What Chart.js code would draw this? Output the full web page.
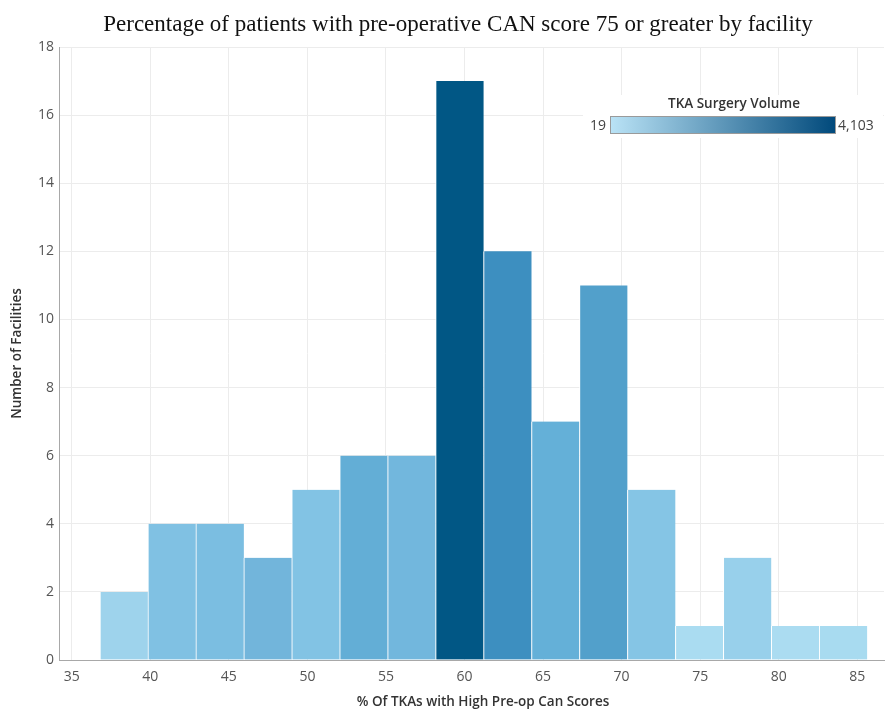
<!DOCTYPE html>
<html>
<head>
<meta charset="utf-8">
<script src="https://cdn.jsdelivr.net/npm/chart.js@4/dist/chart.umd.min.js"></script>
<style>
  html, body { margin: 0; padding: 0; background: #fff; }
  #wrap { width: 885px; height: 709px; position: relative; }
</style>
</head>
<body>
<div id="wrap"><canvas id="c" width="885" height="709"></canvas></div>
<script>
// ---- data ----
const chartTitle = "Percentage of patients with pre-operative CAN score 75 or greater by facility";
const xTitle = "% Of TKAs with High Pre-op Can Scores";
const yTitle = "Number of Facilities";
const binStart = 36.8;      // left edge of first bin (% value)
const binWidth = 3.052;     // bin size (% points)
const facilityCounts = [2, 4, 4, 3, 5, 6, 6, 17, 12, 7, 11, 5, 1, 3, 1, 1];
const binColors = ["#9ed3ec", "#80c1e3", "#7bbee1", "#72b5db", "#82c3e4", "#63aed6", "#72b7dd", "#015785",
                   "#3d8fc0", "#64b0d8", "#52a0cb", "#85c5e5", "#aadcf1", "#98d0eb", "#abdcf1", "#a8dbf0"];
const xTickValues = [35, 40, 45, 50, 55, 60, 65, 70, 75, 80, 85];
const yTickValues = [0, 2, 4, 6, 8, 10, 12, 14, 16, 18];
const legendTitle = "TKA Surgery Volume";
const legendMin = "19";
const legendMax = "4,103";
const legendColors = ["#bae3f6", "#00497b"];

const points = facilityCounts.map((v, i) => ({ x: binStart + binWidth * (i + 0.5), y: v }));

const decorPlugin = {
  id: 'decor',
  afterDraw(chart) {
    const ctx = chart.ctx;
    ctx.save();
    // title
    ctx.fillStyle = '#111';
    ctx.font = '23px "Liberation Serif", "Times New Roman", serif';
    ctx.textAlign = 'center';
    ctx.textBaseline = 'middle';
    ctx.fillText(chartTitle, 458, 25);
    // x axis title
    ctx.fillStyle = '#333';
    ctx.font = '600 13.5px "Open Sans"';
    ctx.fillText(xTitle, 483, 702);
    // gradient legend
    const x0 = 610, x1 = 836, y0 = 116, y1 = 134;
    const g = ctx.createLinearGradient(x0, 0, x1, 0);
    g.addColorStop(0, legendColors[0]);
    g.addColorStop(1, legendColors[1]);
    ctx.fillStyle = '#ffffff';
    ctx.fillRect(583, 95, 300, 43);
    ctx.fillStyle = g;
    ctx.fillRect(x0, y0, x1 - x0, y1 - y0);
    ctx.strokeStyle = '#9a9a9a';
    ctx.lineWidth = 1;
    ctx.strokeRect(x0 + 0.5, y0 + 0.5, x1 - x0 - 1, y1 - y0 - 1);
    ctx.fillStyle = '#333';
    ctx.font = '600 13.5px "Open Sans"';
    ctx.textAlign = 'center';
    ctx.fillText(legendTitle, 734, 104);
    ctx.font = '14px "Open Sans"';
    ctx.fillStyle = '#444';
    ctx.textAlign = 'right';
    ctx.fillText(legendMin, x0 - 4, 126);
    ctx.textAlign = 'left';
    ctx.fillText(legendMax, x1 + 2, 126);
    ctx.restore();
  }
};

new Chart(document.getElementById('c'), {
  type: 'bar',
  data: {
    datasets: [{
      data: points,
      backgroundColor: binColors,
      borderColor: '#ffffff',
      borderWidth: { left: 1, right: 0, top: 0, bottom: 0 },
      borderSkipped: false,
      barPercentage: 1,
      categoryPercentage: 1
    }]
  },
  options: {
    responsive: false,
    animation: false,
    events: [],
    layout: { padding: { left: 0, right: 1, top: 47, bottom: 0 } },
    plugins: {
      legend: { display: false },
      tooltip: { enabled: false },
      title: { display: false }
    },
    scales: {
      x: {
        type: 'linear',
        offset: false,
        min: 34.19,
        max: 86.7,
        afterBuildTicks: s => { s.ticks = xTickValues.map(v => ({ value: v })); },
        afterFit: s => { s.height = 49; },
        grid: { color: '#ececec', drawTicks: false, offset: false },
        border: { color: '#a8a8a8', width: 1 },
        ticks: { color: '#555', font: { family: '"Open Sans"', size: 14 }, padding: 9, maxRotation: 0 },
        title: { display: false }
      },
      y: {
        min: 0,
        max: 18,
        afterBuildTicks: s => { s.ticks = yTickValues.map(v => ({ value: v })); },
        afterFit: s => { s.width = 59; },
        grid: { color: '#ececec', drawTicks: false },
        border: { color: '#a8a8a8', width: 1 },
        ticks: { color: '#555', font: { family: '"Open Sans"', size: 14 }, padding: 5 },
        title: { display: true, text: yTitle, color: '#333', font: { family: '"Open Sans"', size: 13.5, weight: '600' }, padding: { top: 9, bottom: 0 } }
      }
    }
  },
  plugins: [decorPlugin]
});
</script>
</body>
</html>
